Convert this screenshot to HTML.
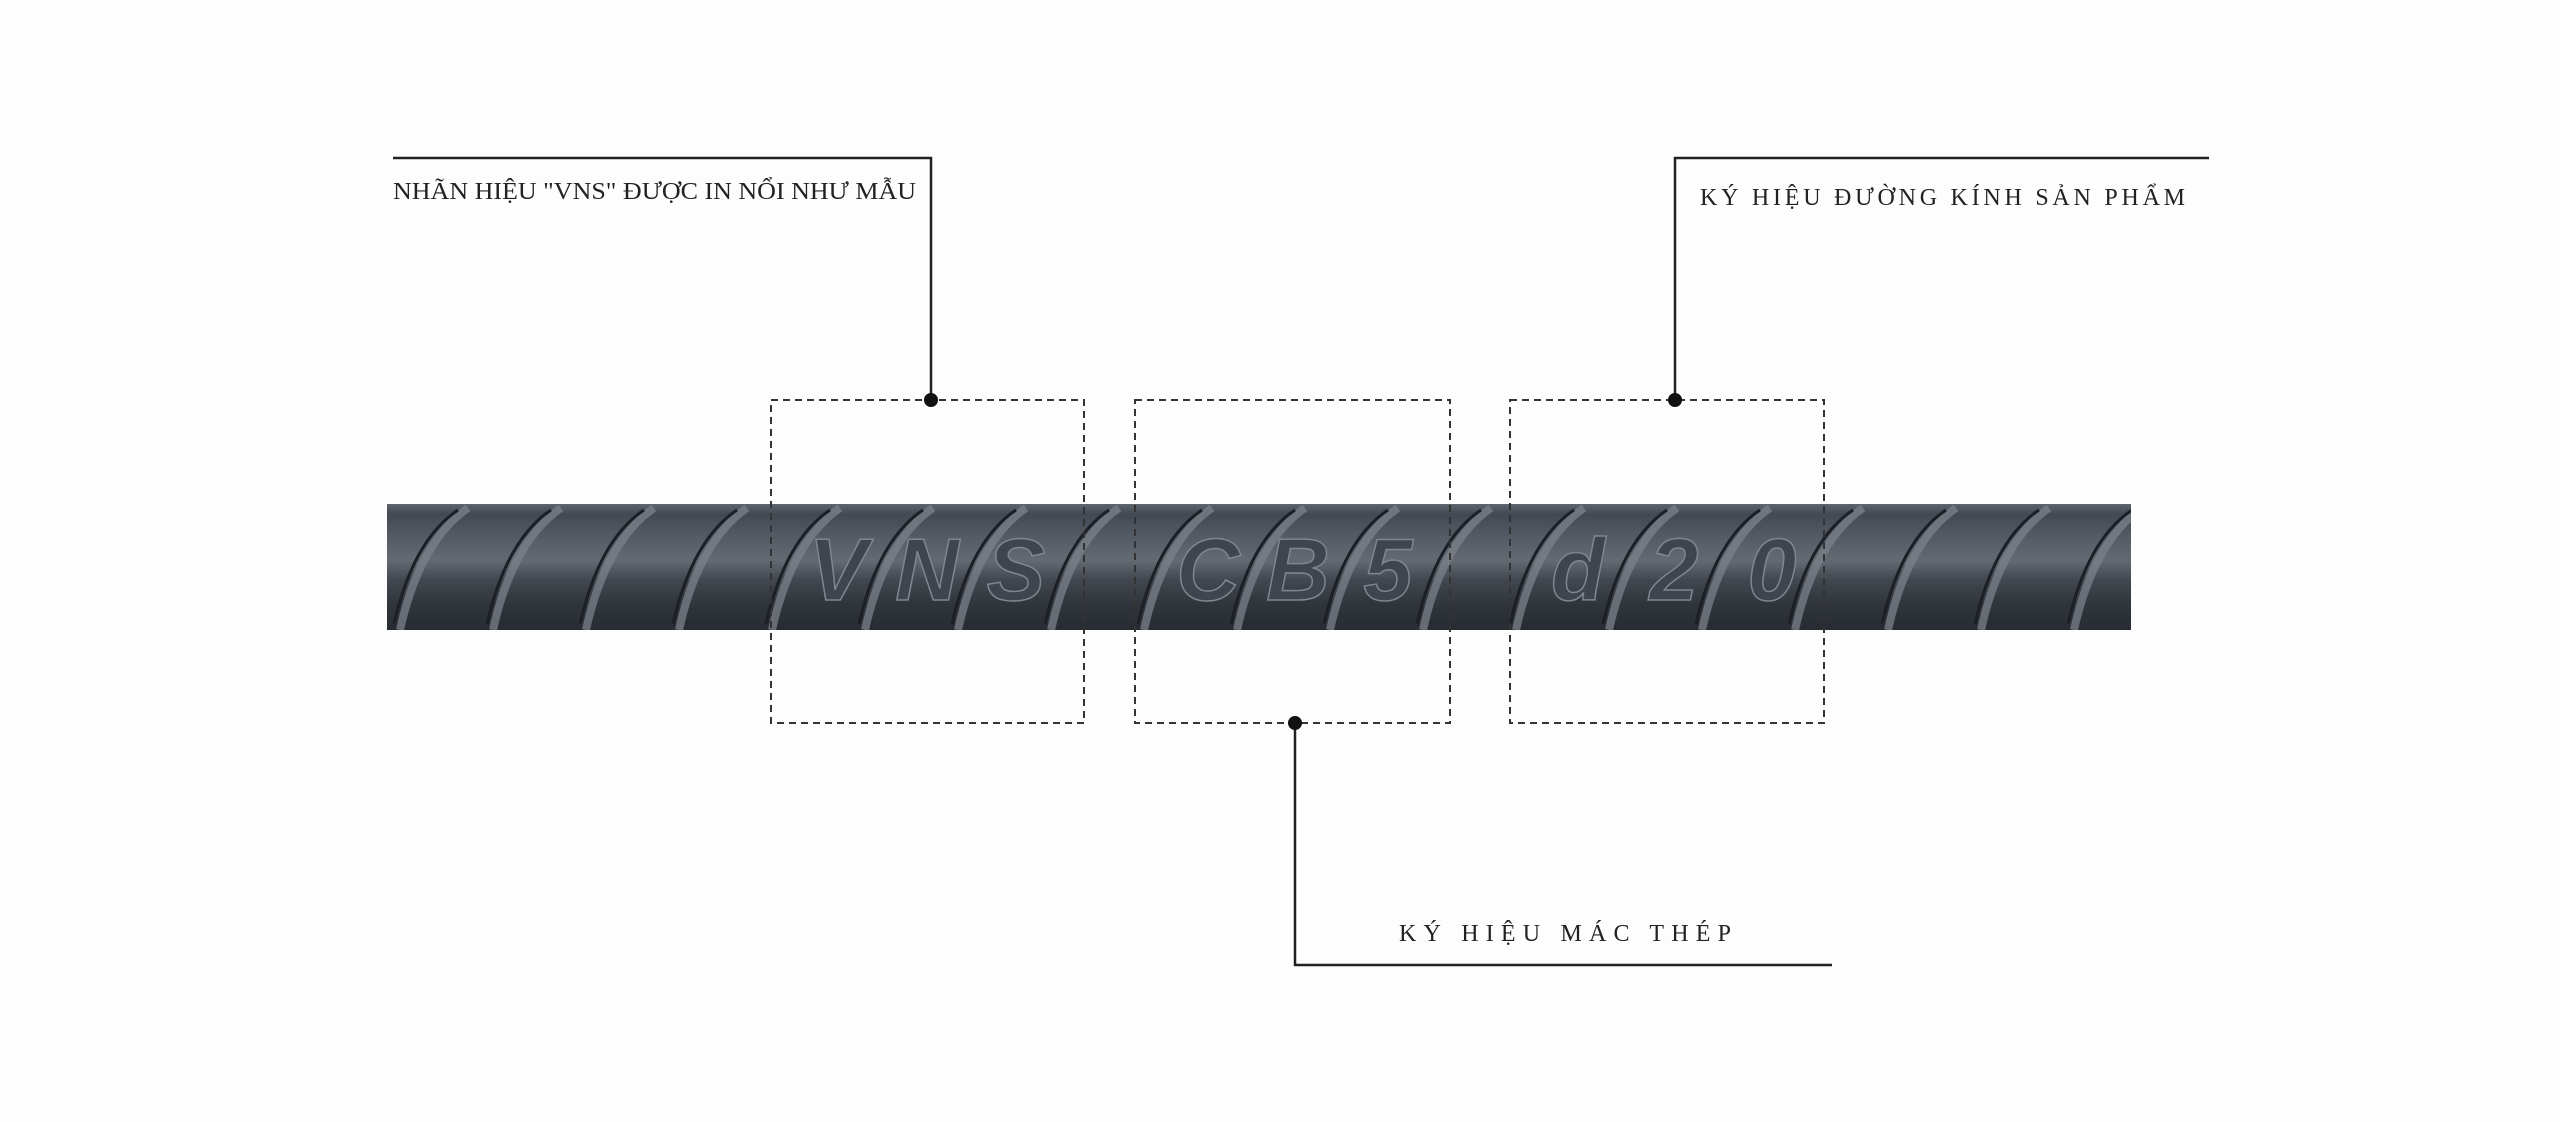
<!DOCTYPE html>
<html><head><meta charset="utf-8"><style>
html,body{margin:0;padding:0;background:#fdfdfd;}
svg{display:block}
</style></head><body>
<svg width="2560" height="1122" viewBox="0 0 2560 1122" xmlns="http://www.w3.org/2000/svg">
<defs>
<linearGradient id="bar" x1="0" y1="0" x2="0" y2="1">
<stop offset="0" stop-color="#5f656e"/>
<stop offset="0.08" stop-color="#434952"/>
<stop offset="0.25" stop-color="#545a63"/>
<stop offset="0.45" stop-color="#646a72"/>
<stop offset="0.6" stop-color="#434850"/>
<stop offset="0.8" stop-color="#30353c"/>
<stop offset="1" stop-color="#272b32"/>
</linearGradient>
<clipPath id="cb"><rect x="387" y="504" width="1744" height="126"/></clipPath>
<g id="rib">
<path d="M0,126 C10,80 30,30 68,4" fill="none" stroke="#7c828a" stroke-width="8" opacity="0.75"/>
<path d="M-6,120 C4,76 22,30 58,6" fill="none" stroke="#1c2026" stroke-width="3"/>
</g>
</defs>
<rect x="0" y="0" width="2560" height="1122" fill="#fdfdfd"/>
<rect x="387" y="504" width="1744" height="126" fill="url(#bar)"/>
<g transform="translate(0,504)" clip-path="url(#cb)">
<g transform="translate(0,-504)"></g>
</g>
<g clip-path="url(#cb)">
<g transform="translate(0,504)">
<use href="#rib" x="400"/><use href="#rib" x="493"/><use href="#rib" x="586"/><use href="#rib" x="679"/>
<use href="#rib" x="772"/><use href="#rib" x="865"/><use href="#rib" x="958"/><use href="#rib" x="1051"/>
<use href="#rib" x="1144"/><use href="#rib" x="1237"/><use href="#rib" x="1330"/><use href="#rib" x="1423"/>
<use href="#rib" x="1516"/><use href="#rib" x="1609"/><use href="#rib" x="1702"/><use href="#rib" x="1795"/>
<use href="#rib" x="1888"/><use href="#rib" x="1981"/><use href="#rib" x="2074"/>
</g>
</g>
<g font-family="Liberation Sans, sans-serif" font-weight="bold" font-style="italic" font-size="88" fill="#40454d" stroke="#80868e" stroke-width="1.5" text-anchor="middle">
<text x="838" y="600">V</text><text x="927" y="600">N</text><text x="1016" y="600">S</text>
<text x="1208" y="600">C</text><text x="1298" y="600">B</text><text x="1388" y="600">5</text>
<text x="1578" y="600">d</text><text x="1674" y="600">2</text><text x="1772" y="600">0</text>
</g>
<g fill="none" stroke="#333" stroke-width="2" stroke-dasharray="7,5">
<rect x="771" y="400" width="313" height="323"/>
<rect x="1135" y="400" width="315" height="323"/>
<rect x="1510" y="400" width="314" height="323"/>
</g>
<g fill="none" stroke="#222" stroke-width="2.5">
<polyline points="393,158 931,158 931,400"/>
<polyline points="1295,723 1295,965 1832,965"/>
<polyline points="1675,400 1675,158 2209,158"/>
</g>
<g fill="#111"><circle cx="931" cy="400" r="7"/><circle cx="1295" cy="723" r="7"/><circle cx="1675" cy="400" r="7"/></g>
<g font-family="Liberation Serif, serif" font-size="24" fill="#222">
<text x="393" y="199" textLength="523" lengthAdjust="spacingAndGlyphs">NHÃN HIỆU "VNS" ĐƯỢC IN NỔI NHƯ MẪU</text>
<text x="1700" y="205" textLength="485" lengthAdjust="spacing">KÝ HIỆU ĐƯỜNG KÍNH SẢN PHẨM</text>
<text x="1399" y="941" textLength="332" lengthAdjust="spacing">KÝ HIỆU MÁC THÉP</text>
</g>
</svg>
</body></html>
